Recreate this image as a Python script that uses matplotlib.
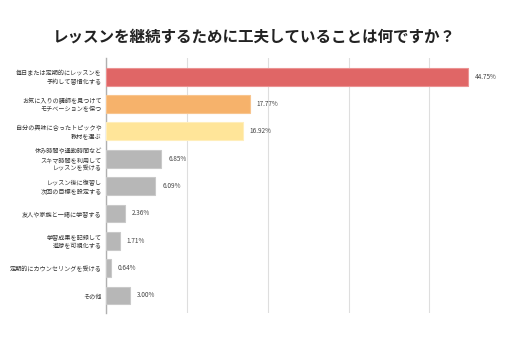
import numpy as np
import matplotlib.pyplot as plt

plt.rcParams['font.family'] = ['Noto Sans CJK JP', 'DejaVu Sans']

# data
categories = [
    "毎日または定期的にレッスンを\n予約して習慣化する",
    "お気に入りの講師を見つけて\nモチベーションを保つ",
    "自分の興味に合ったトピックや\n教材を選ぶ",
    "休み時間や通勤時間など\nスキマ時間を利用して\nレッスンを受ける",
    "レッスン後に復習し\n次回の目標を設定する",
    "友人や家族と一緒に学習する",
    "学習成果を記録して\n進捗を可視化する",
    "定期的にカウンセリングを受ける",
    "その他",
]
values = [44.75, 17.77, 16.92, 6.85, 6.09, 2.36, 1.71, 0.64, 3.00]
colors = ['#e06666', '#f6b26b', '#ffe599'] + ['#b7b7b7'] * 6
edges = ['#eb9393', '#f8c58f', '#ffeebb'] + ['#c9c9c9'] * 6

fig = plt.figure(figsize=(5.12, 3.54), dpi=100)
ax = fig.add_axes([0.207, 0.116, 0.766, 0.72])

y = np.arange(len(values))
ax.barh(y, values, height=0.65, color=colors, edgecolor=edges, linewidth=0.8, zorder=3)

for yi, v in zip(y, values):
    ax.annotate(f"{v:.2f}%", (v, yi), xytext=(5, 0), textcoords='offset points',
                va='center', ha='left', fontsize=4.6, color='#444444')

ax.set_ylim(8.64, -0.68)
ax.set_xlim(0, 48.5)
ax.set_xticks([0, 10, 20, 30, 40])
ax.xaxis.grid(True, color='#dedede', linewidth=0.8, zorder=0)
ax.tick_params(axis='x', length=0, labelbottom=False)
ax.tick_params(axis='y', length=0, pad=3)
ax.set_yticks(y)
ax.set_yticklabels(categories, fontsize=4.4, color='#333333', linespacing=1.05, ha='right')
for s in ['top', 'right', 'bottom']:
    ax.spines[s].set_visible(False)
ax.spines['left'].set_color('#b0b0b0')
ax.spines['left'].set_linewidth(1.0)

fig.text(0.497, 0.898, "レッスンを継続するために工夫していることは何ですか？",
         ha='center', va='center', fontsize=11.2, fontweight='bold', color='#222222')

fig.savefig('out.png', dpi=100)
